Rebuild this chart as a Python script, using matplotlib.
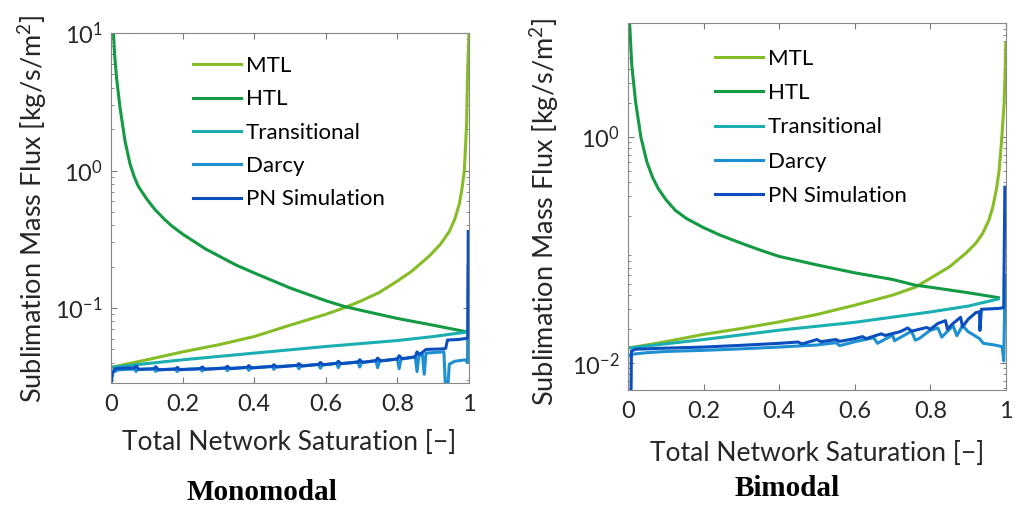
import numpy as np
import matplotlib
matplotlib.use("Agg")
import matplotlib.pyplot as plt
from matplotlib.ticker import LogLocator, FixedLocator, NullFormatter

plt.rcParams['font.family'] = ['Lato', 'DejaVu Sans']
plt.rcParams['mathtext.fontset'] = 'custom'
plt.rcParams['mathtext.rm'] = 'Lato'
plt.rcParams['mathtext.it'] = 'Lato:italic'

labels = ['MTL', 'HTL', 'Transitional', 'Darcy', 'PN Simulation']
colors = ['#86bc25', '#139a43', '#1aaeb0', '#1e90d2', '#0b4fbf']

# ---- Monomodal (saturation, flux) ----
mono_mtl = [(0, 0.037), (0.1, 0.042), (0.2, 0.048), (0.3, 0.054), (0.4, 0.062),
            (0.5, 0.075), (0.6, 0.09), (0.65, 0.10), (0.7, 0.113), (0.75, 0.13),
            (0.8, 0.157), (0.84, 0.185), (0.89, 0.24), (0.92, 0.29), (0.945, 0.36),
            (0.96, 0.44), (0.973, 0.57), (0.981, 0.75), (0.987, 1.0), (0.9935, 2.16),
            (0.996, 5.0), (0.9985, 7.5), (1.0, 10.0)]
mono_htl = [(0.0065, 10.5), (0.01, 7.0), (0.016, 4.6), (0.025, 2.9), (0.039, 1.65),
            (0.053, 1.12), (0.065, 0.9), (0.076, 0.77), (0.1, 0.62), (0.123, 0.52),
            (0.15, 0.44), (0.17, 0.395), (0.2, 0.345), (0.263, 0.27), (0.3, 0.24),
            (0.35, 0.205), (0.4, 0.18), (0.5, 0.14), (0.6, 0.113), (0.65, 0.103),
            (0.7, 0.096), (0.8, 0.084), (0.9, 0.075), (0.995, 0.067)]
mono_trans = [(0, 0.037), (0.2, 0.042), (0.4, 0.047), (0.6, 0.0525),
              (0.8, 0.058), (0.9, 0.062), (0.995, 0.067)]
mono_darcy = [(0.0, 0.0285), (0.005, 0.034), (0.02, 0.0355), (0.065, 0.036), (0.07, 0.0346),
              (0.075, 0.0358), (0.12, 0.036), (0.125, 0.0346), (0.13, 0.0356), (0.18, 0.036),
              (0.185, 0.0345), (0.19, 0.0357), (0.25, 0.0362), (0.255, 0.0348), (0.26, 0.036),
              (0.32, 0.0366), (0.325, 0.035), (0.33, 0.0364), (0.38, 0.037), (0.385, 0.0352),
              (0.39, 0.0368), (0.45, 0.0376), (0.455, 0.0358), (0.46, 0.0375), (0.52, 0.0383),
              (0.525, 0.0362), (0.53, 0.038), (0.58, 0.0389), (0.585, 0.0365), (0.59, 0.0386),
              (0.63, 0.0396), (0.635, 0.0368), (0.64, 0.0393), (0.69, 0.0405), (0.695, 0.0372),
              (0.70, 0.0402), (0.74, 0.0414), (0.745, 0.0368), (0.75, 0.0412), (0.80, 0.0426),
              (0.805, 0.0362), (0.81, 0.0425), (0.85, 0.044), (0.855, 0.0345), (0.86, 0.0445),
              (0.87, 0.046), (0.875, 0.033), (0.88, 0.047), (0.93, 0.048), (0.935, 0.024),
              (0.94, 0.024), (0.945, 0.039), (0.96, 0.041), (0.99, 0.042), (0.996, 0.040),
              (0.998, 0.20)]
mono_pn = [(0.0, 0.028), (0.004, 0.034), (0.012, 0.0362), (0.04, 0.0366), (0.065, 0.0366),
           (0.07, 0.0378), (0.078, 0.0358), (0.12, 0.0362), (0.125, 0.0374), (0.133, 0.0355),
           (0.18, 0.036), (0.185, 0.037), (0.193, 0.0356), (0.25, 0.0362), (0.255, 0.0373),
           (0.263, 0.0358), (0.32, 0.0366), (0.325, 0.0377), (0.333, 0.0362), (0.38, 0.037),
           (0.385, 0.0381), (0.393, 0.0366), (0.45, 0.0376), (0.455, 0.0387), (0.463, 0.0372),
           (0.52, 0.0383), (0.525, 0.0394), (0.533, 0.0378), (0.58, 0.0389), (0.585, 0.0402),
           (0.593, 0.0386), (0.63, 0.0396), (0.635, 0.041), (0.643, 0.0394), (0.69, 0.0405),
           (0.695, 0.042), (0.703, 0.0402), (0.74, 0.0414), (0.745, 0.0432), (0.753, 0.0412),
           (0.80, 0.0426), (0.805, 0.045), (0.813, 0.0428), (0.85, 0.0442), (0.855, 0.048),
           (0.86, 0.046), (0.87, 0.0475), (0.88, 0.050), (0.93, 0.0505), (0.935, 0.051),
           (0.94, 0.0585), (0.97, 0.059), (0.99, 0.060), (0.997, 0.0605), (0.998, 0.36)]

# ---- Bimodal ----
bi_mtl = [(0, 0.0136), (0.1, 0.0155), (0.2, 0.018), (0.3, 0.0203), (0.4, 0.0232),
          (0.5, 0.027), (0.6, 0.0326), (0.7, 0.040), (0.76, 0.047), (0.806, 0.058),
          (0.85, 0.071), (0.894, 0.094), (0.92, 0.115), (0.938, 0.14), (0.955, 0.185),
          (0.965, 0.24), (0.975, 0.35), (0.982, 0.51), (0.989, 1.0), (0.995, 2.0),
          (0.998, 4.0), (0.9995, 6.8)]
bi_htl = [(0.004, 10.5), (0.01, 4.3), (0.02, 2.05), (0.034, 1.0), (0.05, 0.6),
          (0.065, 0.44), (0.08, 0.35), (0.1, 0.28), (0.125, 0.225), (0.155, 0.19),
          (0.2, 0.158), (0.243, 0.136), (0.3, 0.115), (0.35, 0.1), (0.4, 0.088),
          (0.5, 0.074), (0.6, 0.063), (0.7, 0.055), (0.76, 0.049), (0.8, 0.047),
          (0.9, 0.042), (0.98, 0.038)]
bi_trans = [(0, 0.0136), (0.2, 0.0162), (0.4, 0.0196), (0.6, 0.023),
            (0.8, 0.0284), (0.9, 0.032), (0.98, 0.037)]
bi_darcy = [(0.0, 0.0115), (0.01, 0.012), (0.05, 0.0124), (0.1, 0.0127), (0.2, 0.013),
            (0.3, 0.0134), (0.4, 0.0139), (0.5, 0.0145), (0.55, 0.0152), (0.56, 0.0143),
            (0.6, 0.0155), (0.65, 0.0168), (0.66, 0.015), (0.7, 0.0177), (0.705, 0.0158),
            (0.75, 0.0192), (0.76, 0.016), (0.77, 0.0165), (0.80, 0.0196), (0.82, 0.0205),
            (0.83, 0.017), (0.86, 0.0215), (0.87, 0.0175), (0.885, 0.0215), (0.9, 0.019),
            (0.93, 0.0165), (0.94, 0.015), (0.97, 0.0145), (0.99, 0.014), (0.994, 0.0105),
            (0.998, 0.060)]
bi_pn = [(0.008, 0.0055), (0.009, 0.0128), (0.02, 0.0133), (0.1, 0.0136), (0.2, 0.0139),
         (0.3, 0.0144), (0.4, 0.015), (0.45, 0.0154), (0.46, 0.0148), (0.5, 0.0162),
         (0.51, 0.0155), (0.55, 0.0162), (0.56, 0.0156), (0.6, 0.0165), (0.62, 0.0172),
         (0.63, 0.0165), (0.67, 0.0182), (0.68, 0.0176), (0.72, 0.019), (0.74, 0.0205),
         (0.75, 0.0192), (0.79, 0.0207), (0.8, 0.020), (0.82, 0.0225), (0.84, 0.0238),
         (0.845, 0.020), (0.86, 0.0225), (0.88, 0.0255), (0.885, 0.021), (0.9, 0.0245),
         (0.92, 0.028), (0.93, 0.0285), (0.931, 0.0195), (0.935, 0.030), (0.98, 0.0305),
         (0.994, 0.031), (0.997, 0.36)]

mono = [mono_mtl, mono_htl, mono_trans, mono_darcy, mono_pn]
bi = [bi_mtl, bi_htl, bi_trans, bi_darcy, bi_pn]

fig = plt.figure(figsize=(10.21, 5.07), dpi=100)
ax1 = fig.add_axes([0.1087, 0.2446, 0.3506, 0.6903])
ax2 = fig.add_axes([0.6151, 0.2308, 0.3702, 0.7239])


def draw(ax, series, ylim, yticks, ylab_xy, xlab_xy, leg_anchor, spacing):
    for data, lab, c in zip(series, labels, colors):
        x, y = np.array(data).T
        ax.plot(x, y, color=c, lw=2.2, label=lab, solid_joinstyle='round')
    ax.set_yscale('log')
    ax.set_xlim(0, 1)
    ax.set_ylim(*ylim)
    ax.set_xticks([0, 0.2, 0.4, 0.6, 0.8, 1])
    ax.set_xticklabels(['0', '0.2', '0.4', '0.6', '0.8', '1'])
    ax.yaxis.set_major_locator(FixedLocator(yticks))
    ax.set_yticklabels([r'$10^{%d}$' % int(np.log10(t)) for t in yticks])
    ax.yaxis.set_minor_locator(LogLocator(base=10, subs=np.arange(2, 10)))
    ax.yaxis.set_minor_formatter(NullFormatter())
    ax.tick_params(which='both', direction='in', top=True, right=True,
                   colors='#777777', labelcolor='#262626', labelsize=17)
    ax.tick_params(which='major', length=4)
    ax.tick_params(which='minor', length=2.5)
    ax.tick_params(axis='x', pad=8)
    ax.tick_params(axis='y', pad=6)
    for s in ax.spines.values():
        s.set_color('#888888')
    ax.set_xlabel('Total Network Saturation [\u2212]', fontsize=19, color='#262626')
    ax.set_ylabel('Sublimation Mass Flux [kg/s/m$^2$]', fontsize=19.5, color='#262626')
    ax.xaxis.set_label_coords(*xlab_xy)
    ax.xaxis.label.set_va('center')
    ax.yaxis.set_label_coords(*ylab_xy)
    ax.yaxis.label.set_va('center')
    fig.legend(*ax.get_legend_handles_labels(), loc='upper left',
               bbox_to_anchor=leg_anchor, frameon=False, borderpad=0,
               borderaxespad=0, handlelength=2.15, handletextpad=0.22,
               labelspacing=spacing, fontsize=16)


draw(ax1, mono, (0.0285, 10), [0.1, 1, 10], (-0.218, 0.497), (0.497, -0.171),
     (193 / 1021, 1 - 56 / 507), 0.6)
draw(ax2, bi, (0.0058, 10.2), [0.01, 1], (-0.22, 0.485), (0.5, -0.172),
     (715 / 1021, 1 - 49 / 507), 0.64)

fig.text(262 / 1021, 1 - 493 / 507, 'Monomodal', ha='center', va='center',
         family='Liberation Serif', weight='bold', fontsize=21)
fig.text(787 / 1021, 1 - 489 / 507, 'Bimodal', ha='center', va='center',
         family='Liberation Serif', weight='bold', fontsize=21)

fig.savefig('out.png', dpi=100)
